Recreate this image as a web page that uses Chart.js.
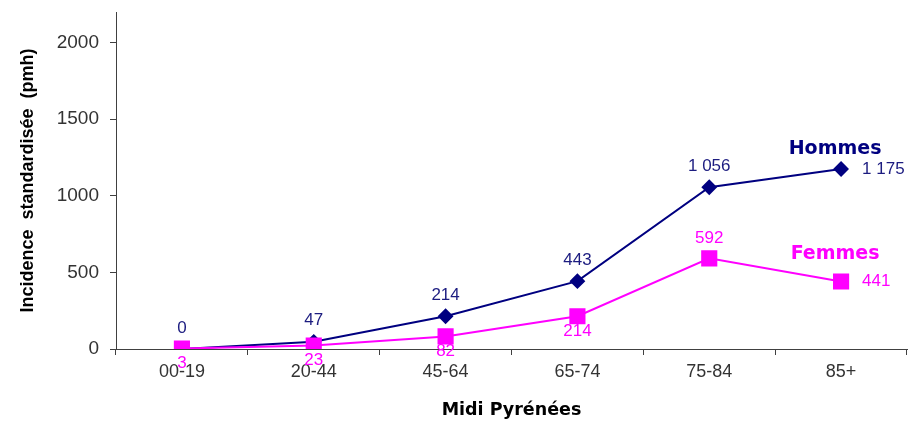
<!DOCTYPE html>
<html>
<head>
<meta charset="utf-8">
<script src="https://cdn.jsdelivr.net/npm/chart.js@4/dist/chart.umd.min.js"></script>
<style>
  html, body { margin: 0; padding: 0; background: #ffffff; }
  #wrap { width: 910px; height: 426px; }
</style>
</head>
<body>
<div id="wrap"><canvas id="chart" width="910" height="426"></canvas></div>
<script>
// Age groups and standardised incidence (per million inhabitants)
const ageGroups = ['00-19', '20-44', '45-64', '65-74', '75-84', '85+'];
const hommes = [0, 47, 214, 443, 1056, 1175];
const femmes = [3, 23, 82, 214, 592, 441];
const yTicks = [0, 500, 1000, 1500, 2000];

const NAVY = '#000080';
const NAVY_TEXT = '#1c1c80';
const MAGENTA = '#ff00ff';
const AXIS = '#404040';
const SANS = 'Liberation Sans';
const WIDE = 'DejaVu Sans';

function fmt(v) {
  return String(v).replace(/\B(?=(\d{3})+(?!\d))/g, ' ');
}

// Draws value labels next to each point plus the series name near the last point
const valueLabels = {
  id: 'valueLabels',
  afterDatasetsDraw(chart) {
    const ctx = chart.ctx;
    ctx.save();
    chart.data.datasets.forEach((ds, i) => {
      const meta = chart.getDatasetMeta(i);
      const lab = ds.labelStyle;
      ctx.fillStyle = lab.color;
      ctx.font = '17px "' + SANS + '"';
      meta.data.forEach((pt, j) => {
        const place = lab.place[j];
        const txt = fmt(ds.data[j]);
        if (place === 'above') {
          ctx.textAlign = 'center'; ctx.textBaseline = 'middle';
          ctx.fillText(txt, pt.x, pt.y - lab.above);
        } else if (place === 'below') {
          ctx.textAlign = 'center'; ctx.textBaseline = 'middle';
          ctx.fillText(txt, pt.x, pt.y + lab.below);
        } else {
          ctx.textAlign = 'left'; ctx.textBaseline = 'middle';
          ctx.fillText(txt, pt.x + 21, pt.y);
        }
      });
      const last = meta.data[meta.data.length - 1];
      ctx.font = 'bold 19px "' + WIDE + '"';
      ctx.fillStyle = lab.nameColor;
      ctx.textAlign = 'center'; ctx.textBaseline = 'middle';
      ctx.fillText(ds.label, last.x + lab.nameDx, last.y + lab.nameDy);
    });
    ctx.restore();
  }
};

function build() {
  new Chart(document.getElementById('chart'), {
    type: 'line',
    data: {
      labels: ageGroups,
      datasets: [
        {
          label: 'Hommes',
          data: hommes,
          order: 1,
          borderColor: NAVY,
          backgroundColor: NAVY,
          borderWidth: 2,
          pointStyle: 'rectRot',
          pointRadius: 6.5,
          pointHoverRadius: 6.5,
          tension: 0,
          labelStyle: {
            color: NAVY_TEXT, nameColor: NAVY,
            place: ['above', 'above', 'above', 'above', 'above', 'right'],
            above: 21, below: 15, nameDx: -6, nameDy: -20
          }
        },
        {
          label: 'Femmes',
          data: femmes,
          order: 0,
          borderColor: MAGENTA,
          backgroundColor: MAGENTA,
          borderWidth: 2,
          pointStyle: 'rect',
          pointRadius: 10,
          pointHoverRadius: 10,
          tension: 0,
          labelStyle: {
            color: MAGENTA, nameColor: MAGENTA,
            place: ['below', 'below', 'below', 'below', 'above', 'right'],
            above: 20, below: 15, nameDx: -6, nameDy: -27
          }
        }
      ]
    },
    options: {
      responsive: false,
      animation: false,
      layout: { autoPadding: false, padding: { top: 12, right: 3, left: 0, bottom: 0 } },
      plugins: {
        legend: { display: false },
        tooltip: { enabled: false }
      },
      scales: {
        x: {
          type: 'category',
          offset: true,
          grid: {
            offset: true,
            drawOnChartArea: false,
            drawTicks: true,
            tickLength: 6,
            color: AXIS
          },
          border: { display: true, color: AXIS, width: 1 },
          ticks: {
            color: '#333333',
            font: { family: SANS, size: 18 },
            padding: 6,
            maxRotation: 0
          },
          title: {
            display: true,
            text: 'Midi Pyrénées',
            color: '#000000',
            font: { family: WIDE, size: 17.5, weight: 'bold' },
            padding: { top: 0, bottom: 5 }
          },
          afterFit(scale) {
            scale.height = 77;
            scale.paddingLeft = 0;
            scale.paddingRight = 0;
          }
        },
        y: {
          min: 0,
          max: 2200,
          grid: {
            drawOnChartArea: false,
            drawTicks: true,
            tickLength: 6,
            color: AXIS
          },
          border: { display: true, color: AXIS, width: 1 },
          afterBuildTicks(scale) {
            scale.ticks = yTicks.map(v => ({ value: v }));
          },
          ticks: {
            color: '#333333',
            font: { family: SANS, size: 19 },
            padding: 11,
            callback: v => String(v)
          },
          title: {
            display: true,
            text: 'Incidence  standardisée  (pmh)',
            color: '#000000',
            font: { family: SANS, size: 18, weight: 'bold' },
            padding: { top: 17, bottom: 0 }
          },
          afterFit(scale) {
            scale.width = 116;
            scale.paddingTop = 0;
            scale.paddingBottom = 0;
          }
        }
      }
    },
    plugins: [valueLabels]
  });
}

Promise.all([
  document.fonts.load('17px "' + SANS + '"'),
  document.fonts.load('bold 17px "' + SANS + '"'),
  document.fonts.load('bold 17px "' + WIDE + '"')
]).then(build, build);
</script>
</body>
</html>
